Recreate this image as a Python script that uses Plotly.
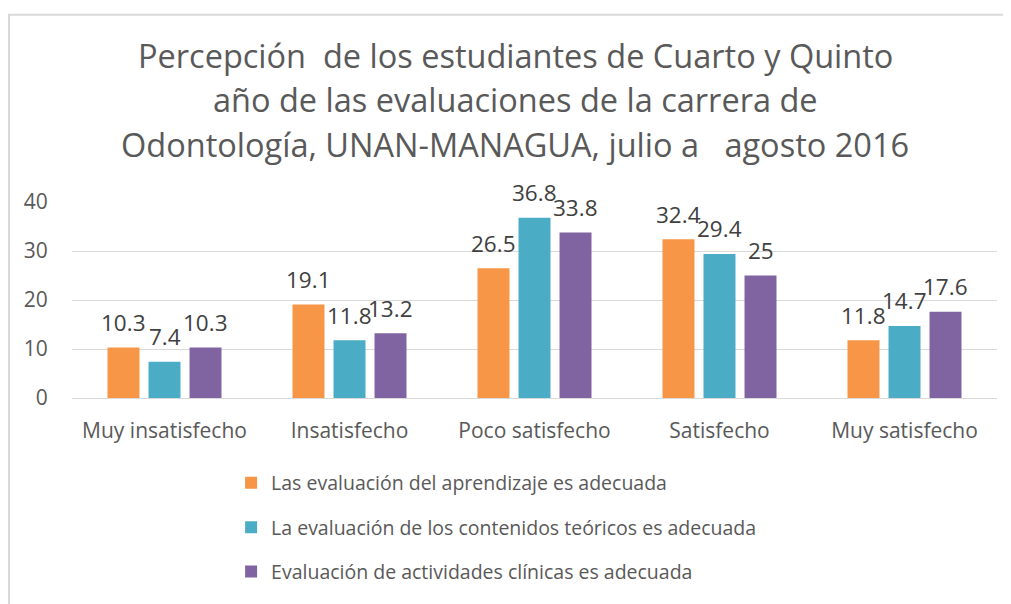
import plotly.graph_objects as go

categories = ["Muy insatisfecho", "Insatisfecho", "Poco satisfecho", "Satisfecho", "Muy satisfecho"]
series_names = [
    "Las evaluación del aprendizaje es adecuada",
    "La evaluación de los contenidos teóricos es adecuada",
    "Evaluación de actividades clínicas es adecuada",
]
aprendizaje = [10.3, 19.1, 26.5, 32.4, 11.8]
teoricos = [7.4, 11.8, 36.8, 29.4, 14.7]
clinicas = [10.3, 13.2, 33.8, 25, 17.6]
title_lines = [
    "Percepción  de los estudiantes de Cuarto y Quinto",
    "año de las evaluaciones de la carrera de",
    "Odontología, UNAN-MANAGUA, julio a   agosto 2016",
]
y_ticks = [0, 10, 20, 30, 40]

colors = ["#F79646", "#4BACC6", "#8064A2"]
all_values = [aprendizaje, teoricos, clinicas]
FONT = "Open Sans"

fig = go.Figure()
for i, (name, vals) in enumerate(zip(series_names, all_values)):
    fig.add_trace(go.Bar(
        x=categories, y=vals, name=name,
        marker=dict(color=colors[i], line=dict(width=0)),
        legendgroup=f"g{i}",
        hoverinfo="x+y",
    ))

annotations = []
offsets = [-41, 0, 41]
for i, vals in enumerate(all_values):
    for c, v in zip(categories, vals):
        annotations.append(dict(
            x=c, y=v, xref="x", yref="y", text=f"{v:g}", showarrow=False,
            xshift=offsets[i], yshift=25, yanchor="middle",
            font=dict(family=FONT, size=22.5, color="#404040"),
        ))

title_y = [1.75, 1.525, 1.295]
for line, yy in zip(title_lines, title_y):
    annotations.append(dict(
        x=0.479, y=yy, xref="paper", yref="paper", text=line, showarrow=False,
        xanchor="center", yanchor="middle",
        font=dict(family=FONT, size=32.5, color="#595959"),
    ))

fig.update_layout(
    width=1003, height=596,
    margin=dict(l=64, r=14, t=194, b=200),
    paper_bgcolor="white", plot_bgcolor="white",
    barmode="group", bargap=0.335, bargroupgap=0.22,
    font=dict(family=FONT, color="#595959"),
    showlegend=True,
    legend=dict(
        orientation="v", x=0.172, y=-0.335, xanchor="left", yanchor="top",
        font=dict(family=FONT, size=19.5, color="#595959"),
        tracegroupgap=16, traceorder="grouped", bgcolor="rgba(0,0,0,0)",
    ),
    annotations=annotations,
    shapes=[dict(
        type="rect", xref="paper", yref="paper",
        x0=-0.0681, x1=1.3, y0=-1.6, y1=1.955,
        line=dict(color="#D9D9D9", width=2), fillcolor="rgba(0,0,0,0)", layer="below",
    )],
)
fig.update_xaxes(
    type="category", showline=False, showgrid=False,
    ticks="outside", ticklen=14, tickcolor="rgba(0,0,0,0)",
    tickfont=dict(family=FONT, size=21, color="#595959"),
)
fig.update_yaxes(
    range=[0, 40], tickvals=y_ticks, showgrid=True, gridcolor="#D9D9D9", gridwidth=1.3,
    zeroline=True, zerolinecolor="#D9D9D9", zerolinewidth=1.3, showline=False,
    ticks="outside", ticklen=19, tickcolor="rgba(0,0,0,0)",
    tickfont=dict(family=FONT, size=21, color="#595959"),
)

fig.write_html("out.html")
